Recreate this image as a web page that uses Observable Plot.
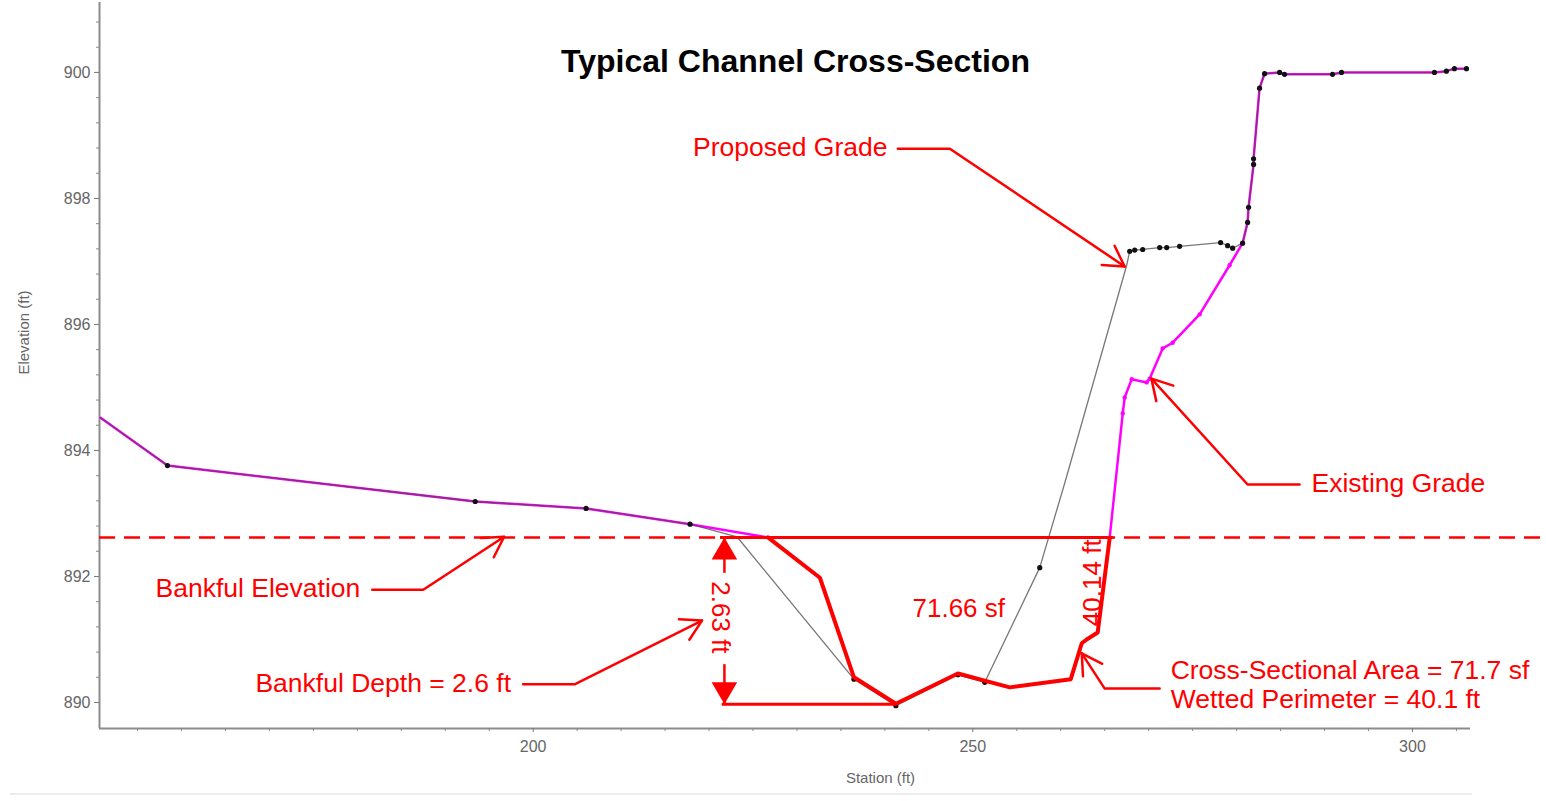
<!DOCTYPE html>
<html><head><meta charset="utf-8">
<script src="https://cdn.jsdelivr.net/npm/d3@7"></script>
<script src="https://cdn.jsdelivr.net/npm/@observablehq/plot@0.6"></script>
<style>
html,body{margin:0;padding:0;background:#fff;overflow:hidden;}
#chart{position:relative;width:1546px;height:801px;}
#chart svg{display:block;}
#baseline{position:absolute;left:10px;top:793px;width:1462px;height:2px;background:#ececec;}
</style></head><body><div id="chart"><div id="baseline"></div></div>
<script>
// ---------------- data ----------------
const existingStation = [150.8, 158.41, 193.41, 206.02, 217.84, 226.70, 232.61, 236.48, 241.25, 248.30,
  254.20, 261.14, 262.39, 262.95, 264.20, 265.57, 267.05, 267.27, 268.07, 269.77,
  270.11, 271.59, 272.73, 275.80, 279.20, 280.68, 281.25, 281.36, 281.93, 281.93,
  282.61, 283.18, 284.89, 285.45, 290.91, 291.93, 302.50, 303.86, 304.77, 306.14];
const existingElevation = [894.52, 893.76, 893.19, 893.08, 892.83, 892.62, 891.98, 890.40, 889.98, 890.46,
  890.24, 890.37, 890.94, 891.00, 891.11, 892.62, 894.59, 894.84, 895.13, 895.08,
  895.14, 895.62, 895.71, 896.16, 896.94, 897.29, 897.62, 897.86, 898.54, 898.63,
  899.75, 899.98, 900.00, 899.97, 899.97, 900.00, 900.00, 900.02, 900.06, 900.06];
const existingSurveyed = [0,0,0,0,0,0,0,0,0,0, 0,0,0,0,0,0,1,1,1,1, 1,1,1,1,1,0,0,0,0,0, 0,0,0,0,0,0,0,0,0,0];

const proposedStation = [150.8, 158.41, 193.41, 206.02, 217.84, 223.18, 236.48, 241.25, 248.30, 251.36,
  257.61, 260.45, 267.50, 267.84, 268.41, 269.32, 271.25, 272.05, 273.52, 278.18,
  278.98, 279.55, 280.68, 281.25, 281.36, 281.93, 281.93, 282.61, 283.18, 284.89,
  285.45, 290.91, 291.93, 302.50, 303.86, 304.77, 306.14];
const proposedElevation = [894.52, 893.76, 893.19, 893.08, 892.83, 892.63, 890.37, 889.95, 890.44, 890.32,
  892.14, 893.48, 896.94, 897.16, 897.18, 897.19, 897.22, 897.22, 897.24, 897.30,
  897.25, 897.21, 897.29, 897.62, 897.86, 898.54, 898.63, 899.75, 899.98, 900.00,
  899.97, 899.97, 900.00, 900.00, 900.02, 900.06, 900.06];
const proposedSurveyed = [0,1,1,1,1,0,1,1,1,1, 1,0,0,1,1,1,1,1,1,1, 1,1,1,1,1,1,1,1,1,1, 1,1,1,1,1,1,1];

const xMajorTicks = [200, 250, 300];
const yMajorTicks = [890, 892, 894, 896, 898, 900];

const bankfullElevation = 892.62;
const thalwegElevation = 889.97;
const channelLeftStation = 221.3;
const channelRightStation = 265.97;
const thalwegStation = 241.2;
const wettedFrom = 226.70, wettedTo = 265.57;

const titleText = "Typical Channel Cross-Section";
const xLabel = "Station (ft)";
const yLabel = "Elevation (ft)";

// annotation labels (anchored in data units)
const labelText = ["Proposed Grade", "Existing Grade", "Bankful Elevation", "Bankful Depth = 2.6 ft",
  "Cross-Sectional Area = 71.7 sf", "Wetted Perimeter = 40.1 ft"];
const labelStation = [218.18, 288.52, 157.05, 168.41, 272.5, 272.5];
const labelElevation = [898.81, 893.48, 891.81, 890.30, 890.50, 890.04];

const leaderId = ["proposed", "existing", "bankfullElev", "bankfullDepth", "area"];
const leaderStartStation = [241.48, 287.16, 181.70, 198.86, 271.25];
const leaderElbowStation = [247.39, 281.25, 187.50, 204.77, 265.0];
const leaderElevation = [898.79, 893.46, 891.79, 890.29, 890.22];
const leaderTipStation = [267.27, 270.31, 196.70, 219.20, 262.39];
const leaderTipElevation = [896.92, 895.14, 892.63, 891.30, 890.78];

const areaValue = "71.66 sf";
const areaLabelStation = 248.4, areaLabelElevation = 891.49;
const perimeterValue = "40.14 ft";
const perimeterLabelStation = 263.64, perimeterLabelElevation = 891.90;
const depthValue = "2.63 ft";
const depthStation = 221.75, depthLabelStation = 221.3, depthLabelElevation = 891.35;
const depthGapTop = 892.05, depthGapBottom = 890.60;

// ---------------- layout ----------------
const W = 1546, H = 801, mL = 99, mR = 76, mT = 2, mB = 73;
const xDomain = [150.68, 306.6];
const yDomain = [889.587, 901.11];
const sx = Plot.scale({x: {domain: xDomain, range: [mL, W - mR]}});
const sy = Plot.scale({y: {domain: yDomain, range: [H - mB, mT]}});
const RED = "#ff0000";
const FONT = "'Liberation Sans', Arial, Helvetica, sans-serif";

const existing = existingStation.map((s, i) => ({s, e: existingElevation[i], dot: existingSurveyed[i]}));
const proposed = proposedStation.map((s, i) => ({s, e: proposedElevation[i], dot: proposedSurveyed[i]}));
const wetted = existing.filter(d => d.s >= wettedFrom && d.s <= wettedTo);

const leaderRows = [];
const wingRows = [];
const headLen = 23, headHalf = Math.PI / 6;
leaderId.forEach((id, i) => {
  leaderRows.push({id, s: leaderStartStation[i], e: leaderElevation[i]},
                  {id, s: leaderElbowStation[i], e: leaderElevation[i]},
                  {id, s: leaderTipStation[i], e: leaderTipElevation[i]});
  const tx = sx.apply(leaderTipStation[i]), ty = sy.apply(leaderTipElevation[i]);
  const ex = sx.apply(leaderElbowStation[i]), ey = sy.apply(leaderElevation[i]);
  const a = Math.atan2(ey - ty, ex - tx);
  wingRows.push({id, s: sx.invert(tx + headLen * Math.cos(a - headHalf)), e: sy.invert(ty + headLen * Math.sin(a - headHalf))},
                {id, s: leaderTipStation[i], e: leaderTipElevation[i]},
                {id, s: sx.invert(tx + headLen * Math.cos(a + headHalf)), e: sy.invert(ty + headLen * Math.sin(a + headHalf))});
});

const yMinor = d3.range(0, 28).filter(i => i % 5 !== 0).map(i => 890 + i * 0.4);
const xMinor = d3.range(155, 306, 5).filter(v => v % 50 !== 0);

const labels = labelText.map((t, i) => ({t, s: labelStation[i], e: labelElevation[i]}));

const chart = Plot.plot({
  width: W, height: H,
  marginLeft: mL, marginRight: mR, marginTop: mT, marginBottom: mB,
  x: {domain: xDomain, range: [mL, W - mR]},
  y: {domain: yDomain, range: [H - mB, mT]},
  style: {fontFamily: FONT, background: "white", overflow: "visible", color: "#666"},
  marks: [
    // axes
    Plot.ruleX([xDomain[0]], {stroke: "#8c8c8c", strokeWidth: 2}),
    Plot.ruleY([yDomain[0]], {stroke: "#8c8c8c", strokeWidth: 2}),
    Plot.axisY({ticks: yMajorTicks, tickSize: 5, tickPadding: 4, fontSize: 16, label: null, stroke: "#777", fill: "#666"}),
    Plot.axisY({ticks: yMinor, tickSize: 3, tickFormat: () => "", label: null, stroke: "#888"}),
    Plot.axisX({ticks: xMajorTicks, tickSize: 4, tickPadding: 8, fontSize: 16, label: null, stroke: "#777", fill: "#666"}),
    Plot.axisX({ticks: xMinor, tickSize: 3, tickFormat: () => "", label: null, stroke: "#888"}),
    Plot.text([yLabel], {text: d => d, frameAnchor: "left", textAnchor: "middle", lineAnchor: "middle", dx: -75, dy: -33, rotate: -90, fontSize: 15, fill: "#666"}),
    Plot.text([xLabel], {text: d => d, frameAnchor: "bottom", textAnchor: "middle", lineAnchor: "middle", dx: 95.5, dy: 50, fontSize: 15, fill: "#666"}),
    Plot.text([titleText], {text: d => d, frameAnchor: "top", textAnchor: "middle", lineAnchor: "middle", dx: 10.5, dy: 59, fontSize: 32, fontWeight: "bold", fill: "#000"}),

    // bankfull dashed line (runs past the frame to the page edge)
    Plot.ruleY([bankfullElevation], {x1: xDomain[0], x2: 315.8, stroke: RED, strokeWidth: 2.5, strokeDasharray: "16,9"}),

    // ground lines
    Plot.line(existing, {x: "s", y: "e", stroke: "#ff00ff", strokeWidth: 2.5}),
    Plot.line(proposed, {x: "s", y: "e", stroke: "#4a4a4a", strokeWidth: 1.3, strokeOpacity: 0.75}),
    Plot.dot(existing.filter(d => d.dot), {x: "s", y: "e", r: 2.2, fill: "#ff00ff", stroke: "none"}),
    Plot.dot(proposed.filter(d => d.dot), {x: "s", y: "e", r: 2.6, fill: "#111", stroke: "none"}),

    // wetted perimeter and bankfull channel
    Plot.line(wetted, {x: "s", y: "e", stroke: RED, strokeWidth: 4, strokeLinejoin: "round"}),
    Plot.ruleY([bankfullElevation], {x1: channelLeftStation, x2: channelRightStation, stroke: RED, strokeWidth: 3}),
    Plot.ruleY([thalwegElevation], {x1: channelLeftStation + 0.2, x2: thalwegStation, stroke: RED, strokeWidth: 3}),

    // depth dimension
    Plot.ruleX([depthStation], {y1: bankfullElevation, y2: depthGapTop, stroke: RED, strokeWidth: 2.5}),
    Plot.ruleX([depthStation], {y1: depthGapBottom, y2: thalwegElevation, stroke: RED, strokeWidth: 2.5}),
    Plot.dot([{s: depthStation, e: bankfullElevation}], {x: "s", y: "e", symbol: "triangle", r: 9.5, fill: RED, stroke: "none", dy: 14.8}),
    Plot.dot([{s: depthStation, e: thalwegElevation}], {x: "s", y: "e", symbol: "triangle", r: 9.5, fill: RED, stroke: "none", rotate: 180, dy: -14.8}),
    Plot.text([depthValue], {text: d => d, x: depthLabelStation, y: depthLabelElevation, rotate: 90, fontSize: 26, fill: RED}),

    // in-channel values
    Plot.text([areaValue], {text: d => d, x: areaLabelStation, y: areaLabelElevation, fontSize: 26, fill: RED}),
    Plot.text([perimeterValue], {text: d => d, x: perimeterLabelStation, y: perimeterLabelElevation, rotate: -90, fontSize: 26, fill: RED}),

    // leaders
    Plot.line(leaderRows, {x: "s", y: "e", z: "id", stroke: RED, strokeWidth: 2.5}),
    Plot.line(wingRows, {x: "s", y: "e", z: "id", stroke: RED, strokeWidth: 2.5}),
    Plot.text(labels, {x: "s", y: "e", text: "t", textAnchor: "start", fontSize: 26.5, fill: RED})
  ]
});
document.getElementById("chart").appendChild(chart);
</script></body></html>
